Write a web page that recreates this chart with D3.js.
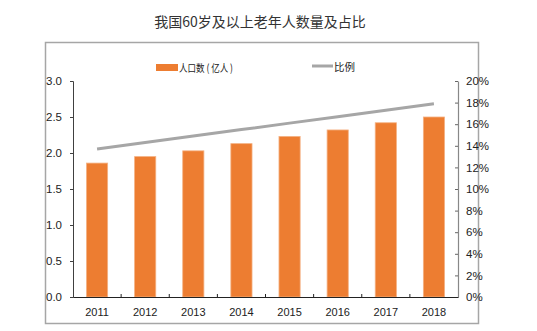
<!DOCTYPE html>
<html><head><meta charset="utf-8">
<script src="https://cdn.jsdelivr.net/npm/d3@7"></script>
<style>body{margin:0;background:#fff}</style>
</head><body>
<svg id="c" width="537" height="331"></svg>
<script>
const years = ["2011","2012","2013","2014","2015","2016","2017","2018"];
const population = [1.86, 1.95, 2.03, 2.13, 2.23, 2.32, 2.42, 2.50];
const ratio = [13.7, 14.3, 14.9, 15.5, 16.1, 16.7, 17.3, 17.9];
const leftTicks = [0, 0.5, 1.0, 1.5, 2.0, 2.5, 3.0];
const rightTicks = [0, 2, 4, 6, 8, 10, 12, 14, 16, 18, 20];

const svg = d3.select("#c");
const font = "'Liberation Sans Narrow','Liberation Sans',Arial,sans-serif";
const cjk = "'Noto Sans CJK SC',sans-serif";
const L = 73, R = 458, T = 81, B = 297;

svg.append("rect").attr("x",45.5).attr("y",42.5).attr("width",433).attr("height",281)
  .attr("fill","none").attr("stroke","#a6a6a6").attr("stroke-width",1.5);

svg.append("text").attr("x",260).attr("y",27).attr("text-anchor","middle")
  .attr("font-family",cjk).attr("font-size",14).attr("fill","#333")
  .text("我国60岁及以上老年人数量及占比");

const x = d3.scaleBand().domain(years).range([L,R]).paddingInner(0.56).paddingOuter(0.28);
const yL = d3.scaleLinear().domain([0,3]).range([B,T]);
const yR = d3.scaleLinear().domain([0,20]).range([B,T]);

// bars
svg.append("g").selectAll("rect").data(years).join("rect")
  .attr("x",d=>x(d)).attr("width",x.bandwidth())
  .attr("y",(d,i)=>yL(population[i])).attr("height",(d,i)=>B-yL(population[i]))
  .attr("fill","#ED7D31").attr("stroke","#F4B183").attr("stroke-width",0.8);

// line
const line = d3.line().x((d,i)=>x(years[i])+x.bandwidth()/2).y(d=>yR(d));
svg.append("path").datum(ratio).attr("d",line).attr("fill","none")
  .attr("stroke","#A6A6A6").attr("stroke-width",3);

// left axis
const ga = svg.append("g").attr("transform",`translate(${L},0)`)
  .call(d3.axisLeft(yL).tickValues(leftTicks).tickFormat(d3.format(".1f")).tickSize(3).tickPadding(8));
ga.select(".domain").attr("stroke","#404040");
ga.selectAll(".tick line").attr("stroke","#404040");
ga.selectAll("text").attr("font-family",font).attr("font-size",11.5).attr("fill","#222");

// right axis
const gr = svg.append("g").attr("transform",`translate(${R},0)`)
  .call(d3.axisRight(yR).tickValues(rightTicks).tickFormat(d=>d+"%").tickSize(0).tickPadding(8));
gr.select(".domain").attr("stroke","#888").attr("stroke-width",1.2);
gr.selectAll(".tick").append("line").attr("x1",-3).attr("x2",0).attr("stroke","#666");
gr.selectAll("text").attr("font-family",font).attr("font-size",11.5).attr("fill","#222");

// bottom axis
const gb = svg.append("g").attr("transform",`translate(0,${B})`)
  .call(d3.axisBottom(x).tickSize(0).tickPadding(11));
gb.select(".domain").attr("stroke","#222");
gb.selectAll("text").attr("font-family",font).attr("font-size",11).attr("fill","#222");
const step = x.step();
svg.append("g").selectAll("line").data(years.slice(1)).join("line")
  .attr("x1",d=>x(d)-step*x.paddingInner()/2).attr("x2",d=>x(d)-step*x.paddingInner()/2)
  .attr("y1",B).attr("y2",B-3).attr("stroke","#222");

// legend
const lg = svg.append("g");
lg.append("rect").attr("x",156).attr("y",64).attr("width",22).attr("height",7).attr("fill","#ED7D31");
lg.append("text").attr("x",179).attr("y",71.5).attr("font-family",cjk).attr("font-size",10.5).attr("fill","#222")
  .attr("textLength",54).attr("lengthAdjust","spacingAndGlyphs")
  .text("人口数 ( 亿人 )");
lg.append("line").attr("x1",312).attr("x2",333).attr("y1",66).attr("y2",66).attr("stroke","#A6A6A6").attr("stroke-width",3);
lg.append("text").attr("x",334).attr("y",71).attr("font-family",cjk).attr("font-size",10.5).attr("fill","#222")
  .text("比例");
</script>
</body></html>
